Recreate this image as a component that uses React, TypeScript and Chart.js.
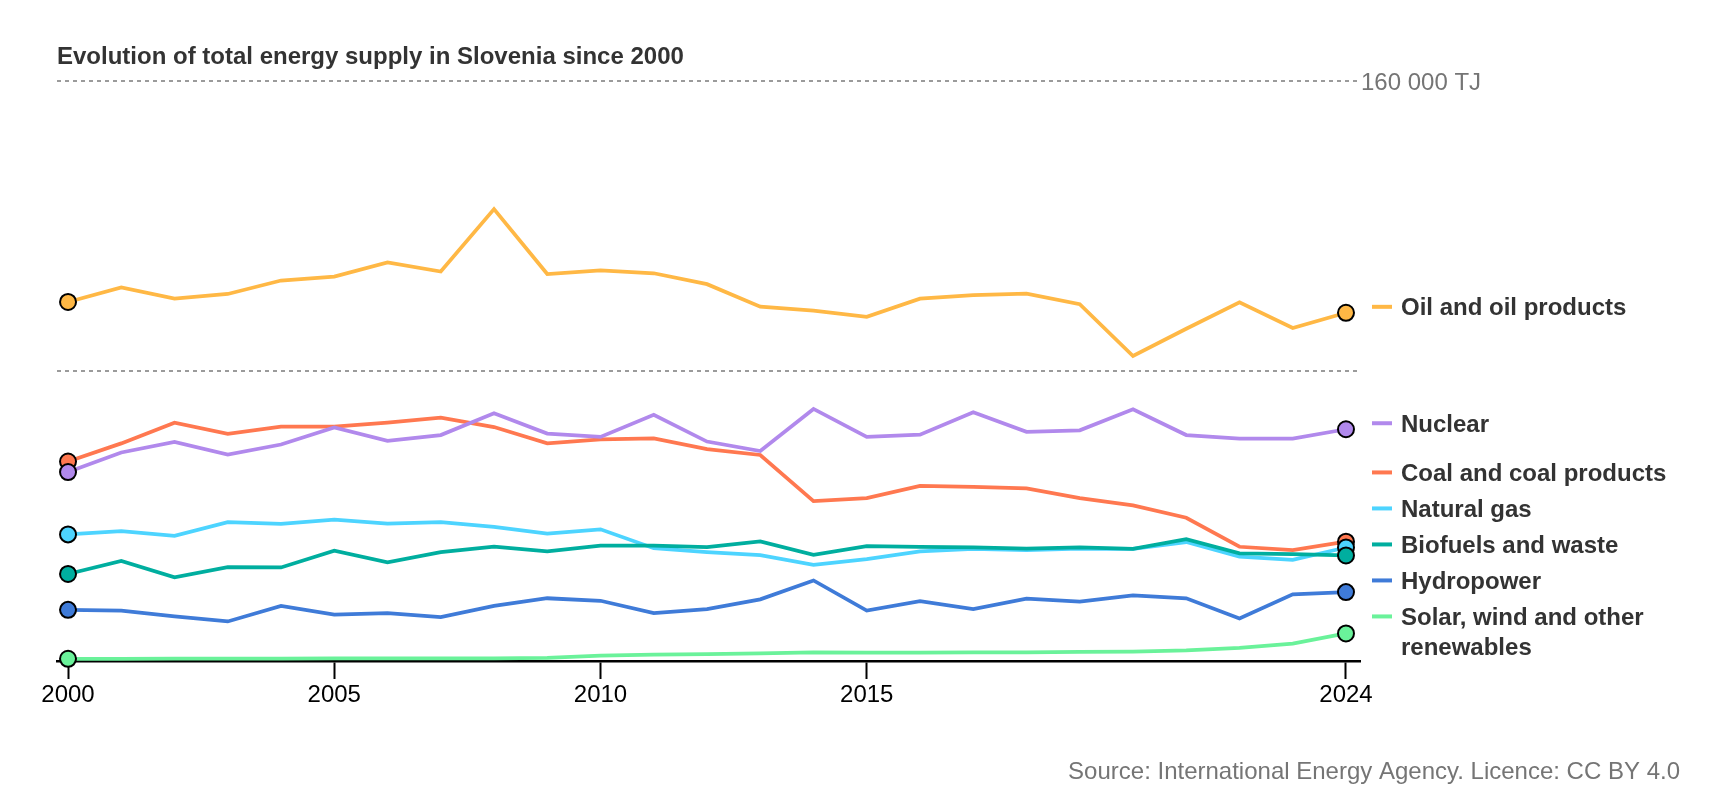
import { useEffect, useRef } from 'react';
import { Chart, registerables } from 'chart.js';

Chart.register(...registerables);

const FONT = '"Liberation Sans", Arial, Helvetica, sans-serif';

const TITLE = 'Evolution of total energy supply in Slovenia since 2000';
const SOURCE = 'Source: International Energy Agency. Licence: CC BY 4.0';
const UNIT = 'TJ';

const YEARS = [
  2000, 2001, 2002, 2003, 2004, 2005, 2006, 2007, 2008, 2009, 2010, 2011, 2012,
  2013, 2014, 2015, 2016, 2017, 2018, 2019, 2020, 2021, 2022, 2023, 2024,
];
const TICK_YEARS = [2000, 2005, 2010, 2015, 2024];
const GRID_VALUES = [0, 80000, 160000];

const SERIES_NAMES = [
  'Oil and oil products',
  'Nuclear',
  'Coal and coal products',
  'Natural gas',
  'Biofuels and waste',
  'Hydropower',
  'Solar, wind and other renewables',
];
const SERIES_COLORS = ['#ffb845', '#b189ec', '#ff7850', '#4dd4ff', '#00ae9f', '#3f7bd8', '#6af29a'];
// drawing order (lower = on top)
const SERIES_ORDER = [0, 4, 6, 5, 1, 3, 2];

const OIL = [99000, 103000, 99900, 101200, 104900, 106000, 109900, 107400, 124600, 106700, 107700, 106900, 103900, 97700, 96600, 94900, 99900, 100900, 101300, 98400, 84100, 91600, 98900, 91800, 96000];
const NUCLEAR = [52100, 57500, 60400, 56900, 59700, 64400, 60700, 62300, 68300, 62700, 61800, 67900, 60500, 57900, 69500, 61800, 62400, 68600, 63200, 63600, 69400, 62300, 61300, 61300, 63900];
const COAL = [55000, 60000, 65700, 62600, 64600, 64600, 65700, 67100, 64500, 60000, 61100, 61400, 58400, 56800, 44100, 44900, 48300, 48000, 47600, 44900, 42900, 39500, 31500, 30600, 32900];
const GAS = [34900, 35800, 34500, 38300, 37800, 39000, 37900, 38300, 37000, 35100, 36300, 31100, 30000, 29200, 26500, 28100, 30200, 30900, 30600, 31000, 30900, 32800, 28800, 27900, 31300];
const BIOFUELS = [24000, 27600, 23100, 25900, 25800, 30400, 27200, 30000, 31500, 30200, 31800, 31800, 31400, 33000, 29300, 31700, 31500, 31300, 31000, 31300, 30900, 33600, 29700, 29500, 29100];
const HYDRO = [14100, 13900, 12300, 10900, 15200, 12800, 13200, 12100, 15200, 17300, 16600, 13200, 14300, 17000, 22200, 13900, 16500, 14300, 17200, 16400, 18100, 17300, 11700, 18400, 19000];
const SOLAR = [600, 600, 650, 650, 650, 700, 700, 700, 750, 850, 1500, 1750, 1900, 2100, 2400, 2300, 2300, 2400, 2400, 2500, 2600, 2900, 3600, 4800, 7600];

const SERIES_VALUES = [OIL, NUCLEAR, COAL, GAS, BIOFUELS, HYDRO, SOLAR];

const formatValue = (v: number) => String(v).replace(/\B(?=(\d{3})+(?!\d))/g, ' ');

function wrapText(ctx: CanvasRenderingContext2D, text: string, maxWidth: number): string[] {
  const words = text.split(' ');
  const lines: string[] = [];
  let cur = '';
  for (const w of words) {
    const test = cur ? cur + ' ' + w : w;
    if (ctx.measureText(test).width > maxWidth && cur) {
      lines.push(cur);
      cur = w;
    } else {
      cur = test;
    }
  }
  if (cur) lines.push(cur);
  return lines;
}

const overlayPlugin = {
  id: 'overlay',
  afterDraw(chart: any) {
    const { ctx, chartArea, scales } = chart;
    ctx.save();
    ctx.textAlign = 'left';
    ctx.textBaseline = 'alphabetic';

    // title
    ctx.font = `bold 24px ${FONT}`;
    ctx.fillStyle = '#333333';
    ctx.fillText(TITLE, chartArea.left, 64);

    // top gridline label
    const topVal = GRID_VALUES[GRID_VALUES.length - 1];
    ctx.font = `24px ${FONT}`;
    ctx.fillStyle = '#757575';
    ctx.fillText(`${formatValue(topVal)} ${UNIT}`, chartArea.right + 1, scales.y.getPixelForValue(topVal) + 9);

    // source
    ctx.textAlign = 'right';
    ctx.fillText(SOURCE, 1680, 779);

    // end labels
    ctx.textAlign = 'left';
    ctx.font = `bold 24px ${FONT}`;
    const lineGap = 30;
    const minGap = 36;
    const items = SERIES_NAMES.map((name, i) => {
      const meta = chart.getDatasetMeta(i);
      const pt = meta.data[meta.data.length - 1];
      const lines = wrapText(ctx, name, 300);
      const first = lines.length === 1 ? pt.y - 6 : pt.y - 17;
      return { name, lines, first, color: SERIES_COLORS[i], y: pt.y };
    });
    items.sort((a, b) => a.y - b.y);
    for (let i = items.length - 2; i >= 0; i--) {
      const maxFirst = items[i + 1].first - minGap - (items[i].lines.length - 1) * lineGap;
      if (items[i].first > maxFirst) items[i].first = maxFirst;
    }
    const mx0 = chartArea.right + 12;
    const mx1 = chartArea.right + 32;
    const tx = chartArea.right + 41;
    for (const it of items) {
      ctx.strokeStyle = it.color;
      ctx.lineWidth = 4;
      ctx.lineCap = 'butt';
      ctx.beginPath();
      ctx.moveTo(mx0, it.first);
      ctx.lineTo(mx1, it.first);
      ctx.stroke();
      ctx.fillStyle = '#333333';
      it.lines.forEach((ln, k) => {
        ctx.fillText(ln, tx, it.first + k * lineGap + 8.6);
      });
    }
    ctx.restore();
  },
};

export default function App() {
  const canvasRef = useRef<HTMLCanvasElement | null>(null);

  useEffect(() => {
    document.body.style.margin = '0';
    const canvas = canvasRef.current;
    if (!canvas) return;
    const last = YEARS.length - 1;
    const chart = new Chart(canvas, {
      type: 'line',
      data: {
        datasets: SERIES_NAMES.map((name, i) => ({
          label: name,
          data: YEARS.map((yr, k) => ({ x: yr, y: SERIES_VALUES[i][k] })),
          borderColor: SERIES_COLORS[i],
          backgroundColor: SERIES_COLORS[i],
          borderWidth: 3.75,
          tension: 0,
          order: SERIES_ORDER[i],
          clip: false as any,
          pointRadius: (c: any) => (c.dataIndex === 0 || c.dataIndex === last ? 8 : 0),
          pointHoverRadius: (c: any) => (c.dataIndex === 0 || c.dataIndex === last ? 8 : 0),
          pointBackgroundColor: SERIES_COLORS[i],
          pointBorderColor: '#000000',
          pointBorderWidth: 2,
        })),
      },
      options: {
        responsive: false,
        animation: false,
        devicePixelRatio: 1,
        events: [],
        layout: { padding: { top: 80.7, left: 57, right: 360, bottom: 0 } },
        plugins: {
          legend: { display: false },
          tooltip: { enabled: false },
          title: { display: false },
        },
        scales: {
          x: {
            type: 'linear',
            min: 1999.793,
            max: 2024.263,
            afterBuildTicks: (scale: any) => {
              scale.ticks = TICK_YEARS.map((v) => ({ value: v }));
            },
            afterFit: (scale: any) => {
              scale.height = 139;
            },
            grid: {
              drawOnChartArea: false,
              drawTicks: true,
              tickLength: 18,
              tickWidth: 2,
              tickColor: '#000000',
            },
            border: { display: true, color: '#000000', width: 2.5 },
            ticks: {
              color: '#000000',
              font: { family: FONT, size: 24 },
              padding: 2,
              maxRotation: 0,
              autoSkip: false,
              callback: (v: any) => String(v),
            },
          },
          y: {
            type: 'linear',
            min: 0,
            max: GRID_VALUES[GRID_VALUES.length - 1],
            afterBuildTicks: (scale: any) => {
              scale.ticks = GRID_VALUES.map((v) => ({ value: v }));
            },
            afterFit: (scale: any) => {
              scale.width = 0;
            },
            grid: {
              drawTicks: false,
              color: (c: any) => (c.tick && c.tick.value === 0 ? 'rgba(0,0,0,0)' : '#9b9b9b'),
              lineWidth: 2,
            },
            border: { display: false, dash: [4, 4] },
            ticks: { display: false },
          },
        },
      },
      plugins: [overlayPlugin],
    } as any);
    return () => chart.destroy();
  }, []);

  return (
    <div style={{ position: 'absolute', left: 0, top: 0, width: 1720, height: 800, background: '#ffffff' }}>
      <canvas ref={canvasRef} width={1720} height={800} style={{ width: 1720, height: 800, display: 'block' }} />
    </div>
  );
}
